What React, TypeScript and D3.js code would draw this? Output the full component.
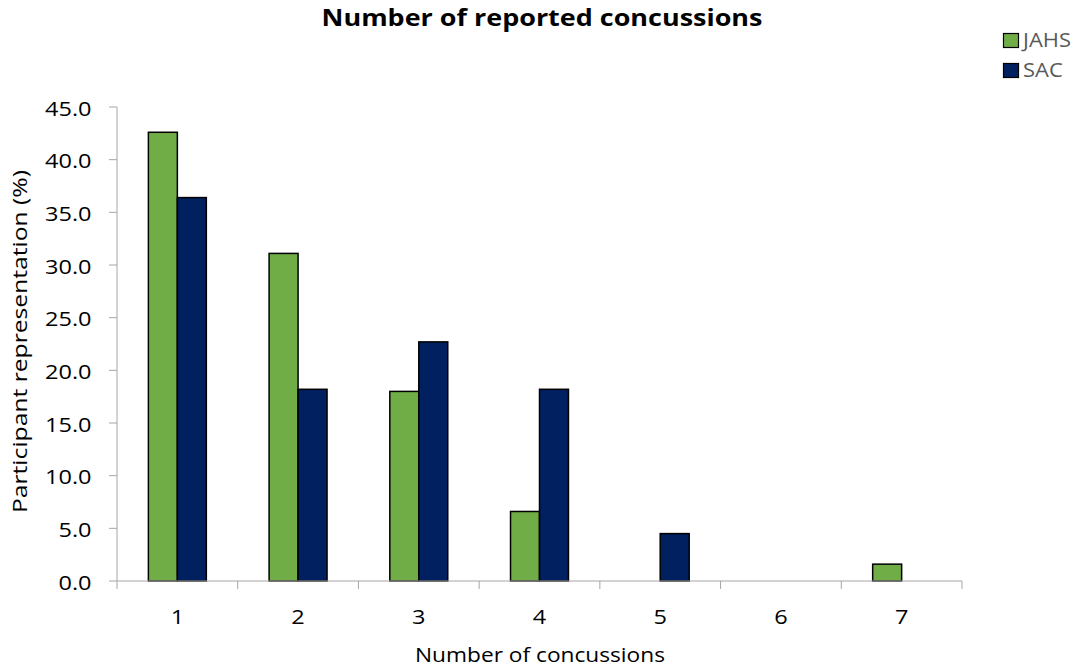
import React from 'react';
import * as d3 from 'd3';

const categories = ['1', '2', '3', '4', '5', '6', '7'];
const jahs = [42.6, 31.1, 18.0, 6.6, 0, 0, 1.6];
const sac = [36.4, 18.2, 22.7, 18.2, 4.5, 0, 0];
const yTicks = [0, 5, 10, 15, 20, 25, 30, 35, 40, 45];
const seriesNames = ['JAHS', 'SAC'];
const seriesColors = ['#70ad47', '#002060'];

const W = 1086, H = 670;
const m = { t: 107, r: 124, b: 89, l: 117 };
const font = '"Open Sans", sans-serif';
const sx = 1.2; // labels in the reference are set a bit wider than Open Sans

export default function App() {
  const iw = W - m.l - m.r;
  const ih = H - m.t - m.b;
  const x = d3.scaleBand().domain(categories).range([0, iw]);
  const inner = d3.scaleBand().domain(seriesNames).range([x.bandwidth() * 0.26, x.bandwidth() * 0.74]);
  const y = d3.scaleLinear().domain([0, 45]).range([ih, 0]);
  const series = [jahs, sac];

  return (
    <svg width={W} height={H} style={{ position: 'absolute', left: 0, top: 0 }} fontFamily={font}>
      <rect width={W} height={H} fill="#fff" />
      <text x={542} y={26} textAnchor="middle" fontSize={23} fontWeight="bold" fill="#000"
        textLength={441} lengthAdjust="spacingAndGlyphs">Number of reported concussions</text>
      {seriesNames.map((s, i) => (
        <g key={s} transform={`translate(1003,${33 + i * 30})`}>
          <rect x={0.5} y={0.5} width={15} height={14} fill={seriesColors[i]} stroke="#000" strokeWidth={1.2} />
          <text transform={`translate(20,14) scale(1.12,1)`} fontSize={19.6} fill="#595959">{s}</text>
        </g>
      ))}
      <g transform={`translate(${m.l},${m.t})`}>
        <line x1={0} x2={0} y1={0} y2={ih} stroke="#a6a6a6" />
        {yTicks.map(t => (
          <g key={t} transform={`translate(0,${y(t)})`}>
            <line x1={-8} x2={0} stroke="#a6a6a6" />
            <text transform={`translate(-25.5,8.5) scale(${sx},1)`} textAnchor="end" fontSize={19.6} fill="#000">{t.toFixed(1)}</text>
          </g>
        ))}
        {categories.map((c, ci) => (
          <g key={c} transform={`translate(${x(c)},0)`}>
            {series.map((vals, si) => vals[ci] > 0 && (
              <rect key={si} x={inner(seriesNames[si])} y={y(vals[ci])} width={inner.bandwidth()} height={ih - y(vals[ci])}
                fill={seriesColors[si]} stroke="#000" strokeWidth={1.5} />
            ))}
          </g>
        ))}
        <line x1={0} x2={iw} y1={ih} y2={ih} stroke="#a6a6a6" />
        {d3.range(categories.length + 1).map(i => (
          <line key={i} x1={i * x.bandwidth()} x2={i * x.bandwidth()} y1={ih} y2={ih + 8} stroke="#a6a6a6" />
        ))}
        {categories.map(c => (
          <text key={c} transform={`translate(${(x(c) || 0) + x.bandwidth() / 2},${ih + 43}) scale(${sx},1)`}
            textAnchor="middle" fontSize={19.6} fill="#000">{c}</text>
        ))}
      </g>
      <text x={540} y={661.5} textAnchor="middle" fontSize={19.6} fill="#000"
        textLength={250} lengthAdjust="spacingAndGlyphs">Number of concussions</text>
      <text transform={`translate(26.7,341.5) rotate(-90)`} textAnchor="middle" fontSize={19.6} fill="#000"
        textLength={343} lengthAdjust="spacingAndGlyphs">Participant representation (%)</text>
    </svg>
  );
}
